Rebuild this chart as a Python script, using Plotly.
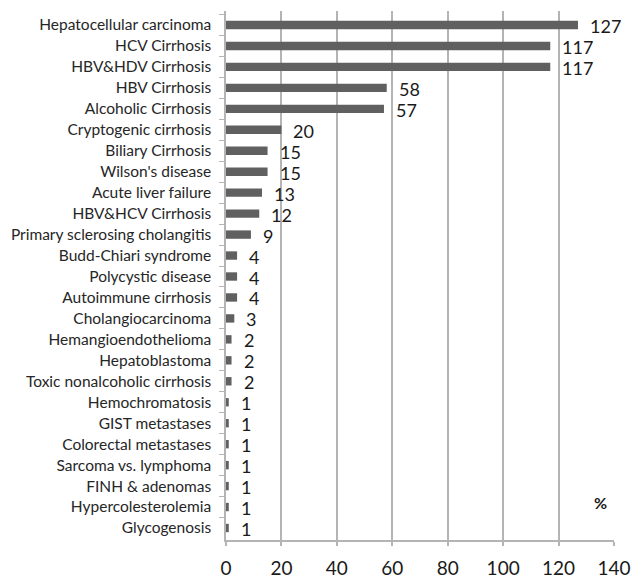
import plotly.graph_objects as go

# Indications, listed top to bottom
categories = [
    "Hepatocellular carcinoma", "HCV Cirrhosis", "HBV&HDV Cirrhosis", "HBV Cirrhosis",
    "Alcoholic Cirrhosis", "Cryptogenic cirrhosis", "Biliary Cirrhosis", "Wilson's disease",
    "Acute liver failure", "HBV&HCV Cirrhosis", "Primary sclerosing cholangitis",
    "Budd-Chiari syndrome", "Polycystic disease", "Autoimmune cirrhosis", "Cholangiocarcinoma",
    "Hemangioendothelioma", "Hepatoblastoma", "Toxic nonalcoholic cirrhosis", "Hemochromatosis",
    "GIST metastases", "Colorectal metastases", "Sarcoma vs. lymphoma", "FINH & adenomas",
    "Hypercolesterolemia", "Glycogenosis",
]
values = [127, 117, 117, 58, 57, 20, 15, 15, 13, 12, 9, 4, 4, 4, 3, 2, 2, 2, 1, 1, 1, 1, 1, 1, 1]
x_ticks = [0, 20, 40, 60, 80, 100, 120, 140]

FONT = "Lato, 'Open Sans', sans-serif"
GRID = "#b4b4b4"

fig = go.Figure(
    go.Bar(
        x=values,
        y=categories,
        orientation="h",
        marker=dict(color="#606060", line=dict(width=0)),
        width=0.4,
        hoverinfo="x+y",
    )
)

# value labels to the right of each bar
for cat, val in zip(categories, values):
    fig.add_annotation(
        x=val, y=cat, text=str(val), showarrow=False,
        xanchor="left", yanchor="middle", xshift=10, yshift=-1,
        font=dict(family=FONT, size=18, color="#1a1a1a"),
    )

fig.add_annotation(
    x=0.965, y=0.07, xref="paper", yref="paper", text="<b>%</b>",
    showarrow=False, xanchor="center", yanchor="middle",
    font=dict(family=FONT, size=16, color="#1a1a1a"),
)

fig.update_layout(
    width=642, height=578,
    margin=dict(l=226, r=28, t=11, b=38, autoexpand=False),
    paper_bgcolor="white", plot_bgcolor="white",
    showlegend=False,
    font=dict(family=FONT, color="#262626"),
)
fig.update_xaxes(
    range=[0, 140], tickvals=x_ticks, automargin=False,
    showgrid=True, gridcolor=GRID, gridwidth=1.5,
    showline=True, linecolor=GRID, linewidth=1.5,
    ticks="outside", ticklen=4, tickcolor=GRID, tickwidth=1.5,
    ticklabelstandoff=6,
    tickfont=dict(family=FONT, size=19, color="#1a1a1a"),
    zeroline=False,
)
fig.update_yaxes(
    autorange="reversed", type="category", automargin=False,
    showline=True, linecolor=GRID, linewidth=1.5,
    ticks="outside", tickson="boundaries", ticklen=5, tickcolor=GRID, tickwidth=1,
    ticklabelstandoff=10,
    tickfont=dict(family=FONT, size=15.5, color="#262626"),
    showgrid=False,
)

fig.write_html("out.html")
